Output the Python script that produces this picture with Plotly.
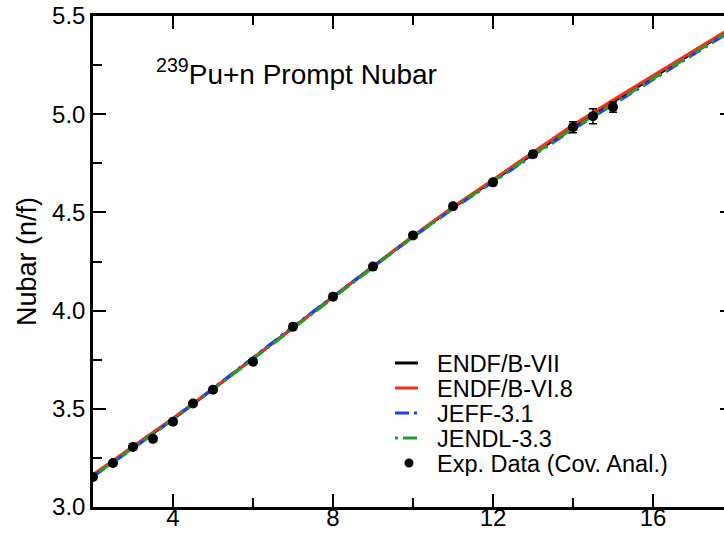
import plotly.graph_objects as go

# ---------------- data ----------------
energy = [2, 3, 4, 5, 6, 7, 8, 9, 10, 11, 12, 13, 14, 15, 16, 17, 18, 19, 20]
endfb7 = [3.160, 3.302, 3.448, 3.600, 3.758, 3.915, 4.070, 4.225, 4.378, 4.525,
          4.662, 4.800, 4.935, 5.062, 5.188, 5.313, 5.440, 5.565, 5.690]
endfb68 = [3.165, 3.308, 3.452, 3.602, 3.758, 3.914, 4.070, 4.226, 4.380, 4.528,
           4.668, 4.808, 4.945, 5.072, 5.197, 5.320, 5.445, 5.570, 5.695]
jeff31 = [3.155, 3.298, 3.446, 3.603, 3.764, 3.918, 4.071, 4.223, 4.374, 4.519,
          4.655, 4.790, 4.922, 5.050, 5.178, 5.304, 5.432, 5.558, 5.684]
jendl33 = [3.157, 3.300, 3.445, 3.598, 3.754, 3.910, 4.066, 4.221, 4.375, 4.521,
           4.658, 4.794, 4.927, 5.055, 5.182, 5.308, 5.436, 5.562, 5.688]

exp_energy = [2.0, 2.5, 3.0, 3.5, 4.0, 4.5, 5.0, 6.0, 7.0, 8.0, 9.0, 10.0, 11.0,
              12.0, 13.0, 14.0, 14.5, 15.0]
exp_nubar = [3.153, 3.224, 3.306, 3.347, 3.434, 3.527, 3.597, 3.740, 3.918, 4.071,
             4.224, 4.383, 4.531, 4.653, 4.796, 4.934, 4.990, 5.036]
exp_err = [0.008, 0.008, 0.008, 0.010, 0.010, 0.010, 0.010, 0.012, 0.012, 0.012,
           0.012, 0.012, 0.012, 0.012, 0.015, 0.028, 0.038, 0.026]

series_names = ["ENDF/B-VII", "ENDF/B-VI.8", "JEFF-3.1", "JENDL-3.3"]
series_values = [endfb7, endfb68, jeff31, jendl33]
series_colors = ["black", "#ff2a1a", "#1f3cff", "#22a022"]
series_dash = ["solid", "solid", "14px,5px,3px,5px", "3px,5px,14px,5px"]
exp_name = "Exp. Data (Cov. Anal.)"

x_ticks = [4, 8, 12, 16]
y_ticks = [3.0, 3.5, 4.0, 4.5, 5.0, 5.5]

FONT = "Liberation Sans, Arial, Helvetica, sans-serif"

# ---------------- geometry (pixels) ----------------
W, H = 760, 535
ML, MR, MT, MB = 93, 27, 16, 28
PW = W - ML - MR
PH = H - MT - MB


def px_to_paper_x(px):
    return (px - ML) / PW


def px_to_paper_y(py):
    return (H - MB - py) / PH


fig = go.Figure()

for name, vals, col, dash in zip(series_names, series_values, series_colors, series_dash):
    fig.add_trace(go.Scatter(
        x=energy, y=vals, mode="lines", name=name,
        line=dict(color=col, width=3, dash=dash),
        showlegend=False,
    ))

fig.add_trace(go.Scatter(
    x=exp_energy, y=exp_nubar, mode="markers", name=exp_name,
    marker=dict(color="black", size=10),
    error_y=dict(type="data", array=exp_err, color="black", thickness=1.5, width=4),
    showlegend=False,
))

# ---------------- manual legend ----------------
ROW_H = 25
legend_rows_py = [363, 388, 413, 438, 463]
sample_x0, sample_x1, text_x = 395, 418, 435
LEG_FONT = 23.5
shapes = []
annotations = []
for i, (name, col, dash) in enumerate(zip(series_names, series_colors, series_dash)):
    yy = px_to_paper_y(legend_rows_py[i])
    shapes.append(dict(type="line", xref="paper", yref="paper",
                       x0=px_to_paper_x(sample_x0), x1=px_to_paper_x(sample_x1),
                       y0=yy, y1=yy, line=dict(color=col, width=3, dash=dash)))
    annotations.append(dict(text=name, xref="paper", yref="paper",
                            x=px_to_paper_x(text_x), y=yy, xanchor="left", yanchor="middle",
                            height=ROW_H, showarrow=False,
                            font=dict(size=LEG_FONT, color="black", family=FONT)))
# exp entry
r = 4.5
cy = legend_rows_py[4]
cx = 409
shapes.append(dict(type="circle", xref="paper", yref="paper",
                   x0=px_to_paper_x(cx - r), x1=px_to_paper_x(cx + r),
                   y0=px_to_paper_y(cy + r), y1=px_to_paper_y(cy - r),
                   fillcolor="black", line=dict(color="black", width=0)))
annotations.append(dict(text=exp_name, xref="paper", yref="paper",
                        x=px_to_paper_x(text_x), y=px_to_paper_y(cy),
                        xanchor="left", yanchor="middle", height=ROW_H, showarrow=False,
                        font=dict(size=LEG_FONT, color="black", family=FONT)))

# title annotation
annotations.append(dict(text="<sup>239</sup>Pu+n Prompt Nubar", xref="paper", yref="paper",
                        x=px_to_paper_x(154), y=px_to_paper_y(72), xanchor="left",
                        yanchor="middle", showarrow=False,
                        font=dict(size=28, color="black", family=FONT)))

axis_common = dict(
    showline=True, linecolor="black", linewidth=2.5, mirror="allticks",
    ticks="inside", ticklen=13, tickwidth=2, tickcolor="black",
    showgrid=False, zeroline=False,
    tickfont=dict(size=24, color="black", family=FONT),
)

fig.update_xaxes(range=[2, 18], tickvals=x_ticks, ticktext=[str(v) for v in x_ticks],
                 ticklabelstandoff=-13,
                 minor=dict(tickvals=[2, 6, 10, 14, 18], ticklen=9, tickwidth=2,
                            tickcolor="black", ticks="inside"),
                 **axis_common)
fig.update_yaxes(range=[3.0, 5.5], tickvals=y_ticks, ticktext=[f"{v:.1f}" for v in y_ticks],
                 minor=dict(tickvals=[3.25, 3.75, 4.25, 4.75, 5.25], ticklen=9, tickwidth=2,
                            tickcolor="black", ticks="inside"),
                 title=dict(text="Nubar (n/f)", font=dict(size=27, color="black", family=FONT),
                            standoff=8),
                 **axis_common)

fig.update_layout(
    width=W, height=H,
    margin=dict(l=ML, r=MR, t=MT, b=MB, autoexpand=False),
    plot_bgcolor="white", paper_bgcolor="white",
    shapes=shapes, annotations=annotations,
    showlegend=False,
)

fig.write_html(
    "out.html",
    post_script="document.body.style.margin='0';document.body.style.overflow='hidden';"
                "document.documentElement.style.overflow='hidden';",
)
